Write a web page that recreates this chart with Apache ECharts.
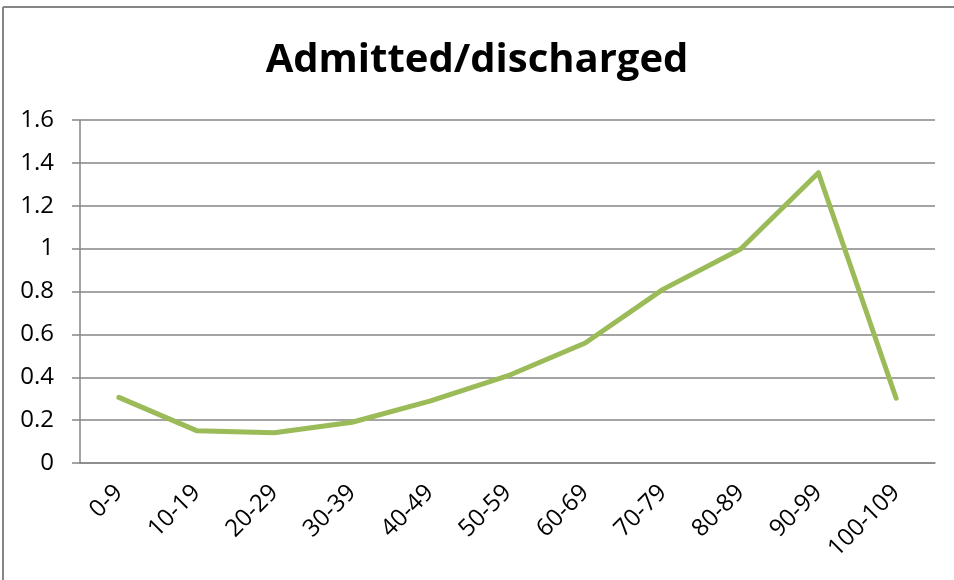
<!DOCTYPE html>
<html>
<head>
<meta charset="utf-8">
<script src="https://cdn.jsdelivr.net/npm/echarts@6/dist/echarts.min.js"></script>
<style>
  html, body { margin: 0; padding: 0; background: #fff; }
  #chart { width: 954px; height: 580px; }
</style>
</head>
<body>
<div id="chart"></div>
<script>
// age groups on the x axis
const ageGroups = ["0-9", "10-19", "20-29", "30-39", "40-49", "50-59", "60-69", "70-79", "80-89", "90-99", "100-109"];
// admitted / discharged ratio
const ratioValues = [0.306, 0.151, 0.141, 0.19, 0.289, 0.406, 0.56, 0.81, 0.998, 1.354, 0.302];

const axisGray = "#868686";
const font = "'Open Sans', 'Noto Sans', sans-serif";

const chart = echarts.init(document.getElementById("chart"));
chart.setOption({
    animation: false,
    title: {
        text: "Admitted/discharged",
        left: "center",
        top: 36,
        textStyle: {
            fontFamily: font,
            fontSize: 40,
            fontWeight: "bold",
            color: "#000",
        },
    },
    grid: {
        left: 80,
        right: 19,
        top: 120,
        bottom: 117,
    },
    // chart frame (left and top edges only are visible)
    graphic: [
        {
            type: "line",
            shape: { x1: 3, y1: 7, x2: 3, y2: 580 },
            style: { stroke: axisGray, lineWidth: 2 },
        },
        {
            type: "line",
            shape: { x1: 3, y1: 7, x2: 954, y2: 7 },
            style: { stroke: axisGray, lineWidth: 2 },
        },
    ],
    xAxis: {
        type: "category",
        data: ageGroups,
        boundaryGap: true,
        axisLine: { lineStyle: { color: axisGray, width: 1.5 } },
        axisTick: { length: 8, lineStyle: { color: axisGray, width: 1.5 } },
        axisLabel: {
            rotate: 45,
            margin: 26,
            fontFamily: font,
            fontSize: 24,
            color: "#000",
            interval: 0,
        },
    },
    yAxis: {
        type: "value",
        min: 0,
        max: 1.6,
        interval: 0.2,
        axisLine: { show: true, lineStyle: { color: axisGray, width: 1.5 } },
        axisTick: { show: true, length: 8, lineStyle: { color: axisGray, width: 1.5 } },
        splitLine: { lineStyle: { color: axisGray, width: 1.5 } },
        axisLabel: {
            margin: 26,
            fontFamily: font,
            fontSize: 24,
            color: "#000",
        },
    },
    series: [
        {
            name: "Admitted/discharged",
            type: "line",
            data: ratioValues,
            showSymbol: false,
            symbol: "none",
            lineStyle: { color: "#9BBB59", width: 5, cap: "round", join: "round" },
        },
    ],
});
</script>
</body>
</html>
